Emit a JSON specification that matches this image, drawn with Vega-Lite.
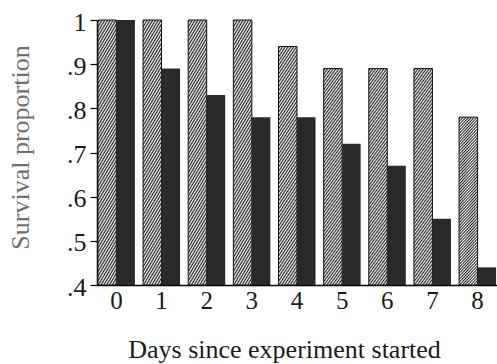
{
  "$schema": "https://vega.github.io/schema/vega-lite/v6.json",
  "width": 400,
  "height": 265,
  "autosize": {"type": "none"},
  "padding": {"left": 97, "top": 20, "right": 0, "bottom": 79},
  "background": "white",
  "config": {"view": {"stroke": null}, "font": "Liberation Serif"},
  "data": {
    "values": [
      {"day": 0, "group": "Group 1", "value": 1.0},
      {"day": 0, "group": "Group 2", "value": 1.0},
      {"day": 1, "group": "Group 1", "value": 1.0},
      {"day": 1, "group": "Group 2", "value": 0.89},
      {"day": 2, "group": "Group 1", "value": 1.0},
      {"day": 2, "group": "Group 2", "value": 0.83},
      {"day": 3, "group": "Group 1", "value": 1.0},
      {"day": 3, "group": "Group 2", "value": 0.78},
      {"day": 4, "group": "Group 1", "value": 0.94},
      {"day": 4, "group": "Group 2", "value": 0.78},
      {"day": 5, "group": "Group 1", "value": 0.89},
      {"day": 5, "group": "Group 2", "value": 0.72},
      {"day": 6, "group": "Group 1", "value": 0.89},
      {"day": 6, "group": "Group 2", "value": 0.67},
      {"day": 7, "group": "Group 1", "value": 0.89},
      {"day": 7, "group": "Group 2", "value": 0.55},
      {"day": 8, "group": "Group 1", "value": 0.78},
      {"day": 8, "group": "Group 2", "value": 0.44}
    ]
  },
  "mark": {"type": "bar", "strokeWidth": 1},
  "encoding": {
    "x": {
      "field": "day",
      "type": "ordinal",
      "scale": {"paddingInner": 0.18, "paddingOuter": 0.02},
      "axis": {
        "title": "Days since experiment started",
        "labelAngle": 0,
        "ticks": false,
        "tickSize": 0,
        "labelPadding": 23,
        "labelBaseline": "alphabetic",
        "labelFont": "Liberation Serif",
        "labelFontSize": 25,
        "labelColor": "#1a1a1a",
        "domainColor": "#000000",
        "domainWidth": 1.5,
        "grid": false,
        "titleFont": "Liberation Serif",
        "titleFontSize": 26,
        "titleFontWeight": "normal",
        "titleColor": "#1a1a1a",
        "titleX": 187,
        "titleY": 72,
        "titleAlign": "center",
        "titleBaseline": "alphabetic"
      }
    },
    "xOffset": {"field": "group", "type": "nominal", "scale": {"paddingInner": 0, "paddingOuter": 0}},
    "y": {
      "field": "value",
      "type": "quantitative",
      "scale": {"domain": [0.4, 1], "zero": false, "nice": false},
      "axis": {
        "values": [0.4, 0.5, 0.6, 0.7, 0.8, 0.9, 1],
        "labelExpr": "datum.value >= 1 ? '1' : slice(format(datum.value, '.1f'), 1)",
        "grid": false,
        "domainColor": "#000000",
        "domainWidth": 1.5,
        "tickColor": "#000000",
        "tickWidth": 1.2,
        "tickSize": 7,
        "labelPadding": 4,
        "labelFont": "Liberation Serif",
        "labelFontSize": 26,
        "labelColor": "#1a1a1a",
        "labelBaseline": "alphabetic",
        "labelOffset": 10,
        "labelFlush": false,
        "labelOverlap": false,
        "title": "Survival proportion",
        "titleFont": "Liberation Serif",
        "titleFontSize": 26,
        "titleFontWeight": "normal",
        "titleColor": "#707070",
        "titleAngle": 270,
        "titleX": -69,
        "titleY": 127,
        "titleAlign": "center",
        "titleBaseline": "alphabetic"
      }
    },
    "y2": {"datum": 0.4},
    "fill": {
      "condition": {
        "test": "datum.group === 'Group 1'",
        "value": {
          "gradient": "linear",
          "x1": 0, "y1": 0, "x2": 0.1297, "y2": 1.1024,
          "stops": [
            {"offset": 0, "color": "#ffffff"},
            {"offset": 0.0079, "color": "#1e1e1e"},
            {"offset": 0.0159, "color": "#ffffff"},
            {"offset": 0.0238, "color": "#1e1e1e"},
            {"offset": 0.0317, "color": "#ffffff"},
            {"offset": 0.0397, "color": "#1e1e1e"},
            {"offset": 0.0476, "color": "#ffffff"},
            {"offset": 0.0556, "color": "#1e1e1e"},
            {"offset": 0.0635, "color": "#ffffff"},
            {"offset": 0.0714, "color": "#1e1e1e"},
            {"offset": 0.0794, "color": "#ffffff"},
            {"offset": 0.0873, "color": "#1e1e1e"},
            {"offset": 0.0952, "color": "#ffffff"},
            {"offset": 0.1032, "color": "#1e1e1e"},
            {"offset": 0.1111, "color": "#ffffff"},
            {"offset": 0.119, "color": "#1e1e1e"},
            {"offset": 0.127, "color": "#ffffff"},
            {"offset": 0.1349, "color": "#1e1e1e"},
            {"offset": 0.1429, "color": "#ffffff"},
            {"offset": 0.1508, "color": "#1e1e1e"},
            {"offset": 0.1587, "color": "#ffffff"},
            {"offset": 0.1667, "color": "#1e1e1e"},
            {"offset": 0.1746, "color": "#ffffff"},
            {"offset": 0.1825, "color": "#1e1e1e"},
            {"offset": 0.1905, "color": "#ffffff"},
            {"offset": 0.1984, "color": "#1e1e1e"},
            {"offset": 0.2063, "color": "#ffffff"},
            {"offset": 0.2143, "color": "#1e1e1e"},
            {"offset": 0.2222, "color": "#ffffff"},
            {"offset": 0.2302, "color": "#1e1e1e"},
            {"offset": 0.2381, "color": "#ffffff"},
            {"offset": 0.246, "color": "#1e1e1e"},
            {"offset": 0.254, "color": "#ffffff"},
            {"offset": 0.2619, "color": "#1e1e1e"},
            {"offset": 0.2698, "color": "#ffffff"},
            {"offset": 0.2778, "color": "#1e1e1e"},
            {"offset": 0.2857, "color": "#ffffff"},
            {"offset": 0.2937, "color": "#1e1e1e"},
            {"offset": 0.3016, "color": "#ffffff"},
            {"offset": 0.3095, "color": "#1e1e1e"},
            {"offset": 0.3175, "color": "#ffffff"},
            {"offset": 0.3254, "color": "#1e1e1e"},
            {"offset": 0.3333, "color": "#ffffff"},
            {"offset": 0.3413, "color": "#1e1e1e"},
            {"offset": 0.3492, "color": "#ffffff"},
            {"offset": 0.3571, "color": "#1e1e1e"},
            {"offset": 0.3651, "color": "#ffffff"},
            {"offset": 0.373, "color": "#1e1e1e"},
            {"offset": 0.381, "color": "#ffffff"},
            {"offset": 0.3889, "color": "#1e1e1e"},
            {"offset": 0.3968, "color": "#ffffff"},
            {"offset": 0.4048, "color": "#1e1e1e"},
            {"offset": 0.4127, "color": "#ffffff"},
            {"offset": 0.4206, "color": "#1e1e1e"},
            {"offset": 0.4286, "color": "#ffffff"},
            {"offset": 0.4365, "color": "#1e1e1e"},
            {"offset": 0.4444, "color": "#ffffff"},
            {"offset": 0.4524, "color": "#1e1e1e"},
            {"offset": 0.4603, "color": "#ffffff"},
            {"offset": 0.4683, "color": "#1e1e1e"},
            {"offset": 0.4762, "color": "#ffffff"},
            {"offset": 0.4841, "color": "#1e1e1e"},
            {"offset": 0.4921, "color": "#ffffff"},
            {"offset": 0.5, "color": "#1e1e1e"},
            {"offset": 0.5079, "color": "#ffffff"},
            {"offset": 0.5159, "color": "#1e1e1e"},
            {"offset": 0.5238, "color": "#ffffff"},
            {"offset": 0.5317, "color": "#1e1e1e"},
            {"offset": 0.5397, "color": "#ffffff"},
            {"offset": 0.5476, "color": "#1e1e1e"},
            {"offset": 0.5556, "color": "#ffffff"},
            {"offset": 0.5635, "color": "#1e1e1e"},
            {"offset": 0.5714, "color": "#ffffff"},
            {"offset": 0.5794, "color": "#1e1e1e"},
            {"offset": 0.5873, "color": "#ffffff"},
            {"offset": 0.5952, "color": "#1e1e1e"},
            {"offset": 0.6032, "color": "#ffffff"},
            {"offset": 0.6111, "color": "#1e1e1e"},
            {"offset": 0.619, "color": "#ffffff"},
            {"offset": 0.627, "color": "#1e1e1e"},
            {"offset": 0.6349, "color": "#ffffff"},
            {"offset": 0.6429, "color": "#1e1e1e"},
            {"offset": 0.6508, "color": "#ffffff"},
            {"offset": 0.6587, "color": "#1e1e1e"},
            {"offset": 0.6667, "color": "#ffffff"},
            {"offset": 0.6746, "color": "#1e1e1e"},
            {"offset": 0.6825, "color": "#ffffff"},
            {"offset": 0.6905, "color": "#1e1e1e"},
            {"offset": 0.6984, "color": "#ffffff"},
            {"offset": 0.7063, "color": "#1e1e1e"},
            {"offset": 0.7143, "color": "#ffffff"},
            {"offset": 0.7222, "color": "#1e1e1e"},
            {"offset": 0.7302, "color": "#ffffff"},
            {"offset": 0.7381, "color": "#1e1e1e"},
            {"offset": 0.746, "color": "#ffffff"},
            {"offset": 0.754, "color": "#1e1e1e"},
            {"offset": 0.7619, "color": "#ffffff"},
            {"offset": 0.7698, "color": "#1e1e1e"},
            {"offset": 0.7778, "color": "#ffffff"},
            {"offset": 0.7857, "color": "#1e1e1e"},
            {"offset": 0.7937, "color": "#ffffff"},
            {"offset": 0.8016, "color": "#1e1e1e"},
            {"offset": 0.8095, "color": "#ffffff"},
            {"offset": 0.8175, "color": "#1e1e1e"},
            {"offset": 0.8254, "color": "#ffffff"},
            {"offset": 0.8333, "color": "#1e1e1e"},
            {"offset": 0.8413, "color": "#ffffff"},
            {"offset": 0.8492, "color": "#1e1e1e"},
            {"offset": 0.8571, "color": "#ffffff"},
            {"offset": 0.8651, "color": "#1e1e1e"},
            {"offset": 0.873, "color": "#ffffff"},
            {"offset": 0.881, "color": "#1e1e1e"},
            {"offset": 0.8889, "color": "#ffffff"},
            {"offset": 0.8968, "color": "#1e1e1e"},
            {"offset": 0.9048, "color": "#ffffff"},
            {"offset": 0.9127, "color": "#1e1e1e"},
            {"offset": 0.9206, "color": "#ffffff"},
            {"offset": 0.9286, "color": "#1e1e1e"},
            {"offset": 0.9365, "color": "#ffffff"},
            {"offset": 0.9444, "color": "#1e1e1e"},
            {"offset": 0.9524, "color": "#ffffff"},
            {"offset": 0.9603, "color": "#1e1e1e"},
            {"offset": 0.9683, "color": "#ffffff"},
            {"offset": 0.9762, "color": "#1e1e1e"},
            {"offset": 0.9841, "color": "#ffffff"},
            {"offset": 0.9921, "color": "#1e1e1e"},
            {"offset": 1, "color": "#ffffff"}
          ]
        }
      },
      "value": "#2a2a2a"
    },
    "stroke": {
      "condition": {"test": "datum.group === 'Group 1'", "value": "#111111"},
      "value": null
    }
  }
}
